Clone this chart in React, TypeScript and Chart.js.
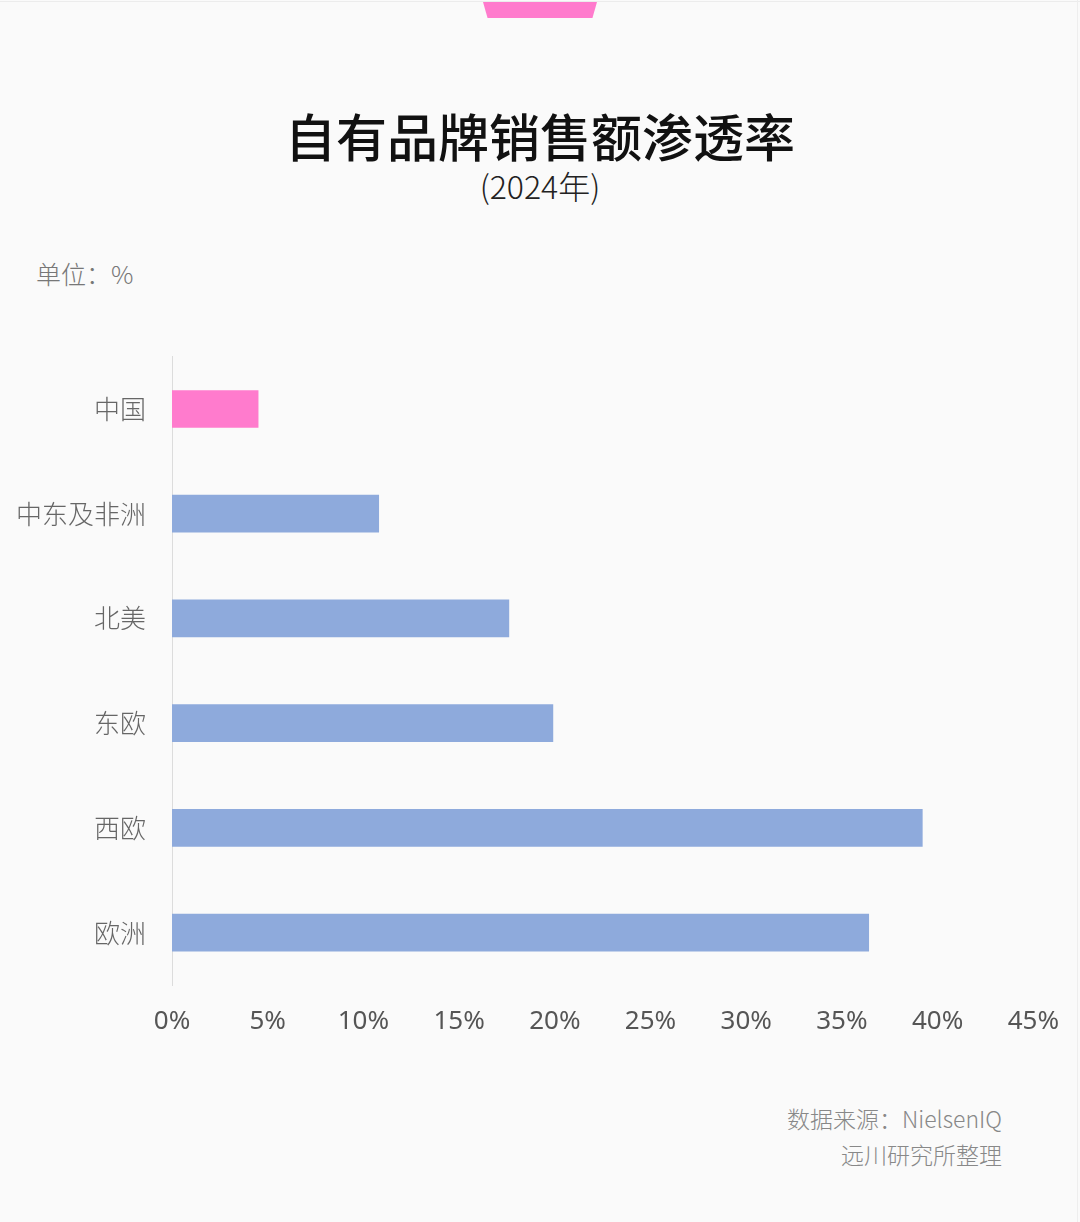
import React, { useEffect, useRef } from "react";
import { Chart, registerables } from "chart.js";

Chart.register(...registerables);

const categories = ["中国", "中东及非洲", "北美", "东欧", "西欧", "欧洲"];
const values = [4.5, 10.8, 17.6, 19.9, 39.2, 36.4];
const barColors = ["#ff7bcd", "#8eaadc", "#8eaadc", "#8eaadc", "#8eaadc", "#8eaadc"];
const xMax = 45;
const xStep = 5;

const FONT = '"Noto Sans CJK SC", "Noto Sans", sans-serif';

export default function App() {
  const ref = useRef<HTMLCanvasElement | null>(null);

  useEffect(() => {
    document.body.style.margin = "0";
    const ctx = ref.current!;
    const chart = new Chart(ctx, {
      type: "bar",
      data: {
        labels: categories,
        datasets: [
          {
            data: values,
            backgroundColor: barColors,
            borderWidth: 0,
            barThickness: 37,
          },
        ],
      },
      options: {
        indexAxis: "y",
        animation: false,
        responsive: false,
        maintainAspectRatio: false,
        layout: { padding: { left: 0, right: 45, top: 13, bottom: 0 } },
        plugins: { legend: { display: false }, tooltip: { enabled: false } },
        scales: {
          x: {
            min: 0,
            max: xMax,
            grid: { display: false, drawTicks: false },
            border: { display: false },
            ticks: {
              stepSize: xStep,
              padding: 21,
              color: "#555555",
              font: { family: '"Noto Sans", sans-serif', size: 26 },
              callback: (v: any) => `${v}%`,
              maxRotation: 0,
              autoSkip: false,
            },
            afterFit: (s: any) => {
              s.height = 75;
            },
          },
          y: {
            grid: { display: false, drawTicks: false },
            border: { display: true, color: "#dcdcdc", width: 1 },
            ticks: {
              padding: 26,
              color: "#666666",
              font: { family: FONT, size: 26, weight: 300 as any },
            },
            afterFit: (s: any) => {
              s.width = 172;
            },
          },
        },
      },
    });
    return () => chart.destroy();
  }, []);

  return (
    <div
      style={{
        position: "absolute",
        left: 0,
        top: 0,
        width: 1080,
        height: 1222,
        background: "#fafafa",
        fontFamily: FONT,
        overflow: "hidden",
      }}
    >
      <div style={{ position: "absolute", left: 0, top: 1, width: 1080, height: 1, background: "#ececec" }} />
      <div style={{ position: "absolute", left: 1077, top: 0, width: 1, height: 1222, background: "#eeeeee" }} />
      <div
        style={{
          position: "absolute",
          left: 483,
          top: 2,
          width: 114,
          height: 16,
          background: "#ff7bcd",
          clipPath: "polygon(0 0, 100% 0, 96% 100%, 4% 100%)",
        }}
      />
      <div
        style={{
          position: "absolute",
          left: 0,
          width: 1080,
          top: 102,
          textAlign: "center",
          fontSize: 51,
          fontWeight: 500,
          color: "#111111",
          lineHeight: "66px",
        }}
      >
        自有品牌销售额渗透率
      </div>
      <div
        style={{
          position: "absolute",
          left: 0,
          width: 1080,
          top: 164,
          textAlign: "center",
          fontSize: 32,
          fontWeight: 300,
          color: "#222222",
          lineHeight: "42px",
        }}
      >
        (2024年)
      </div>
      <div
        style={{
          position: "absolute",
          left: 36,
          top: 256,
          fontSize: 25,
          fontWeight: 300,
          color: "#777777",
          lineHeight: "34px",
        }}
      >
        单位：%
      </div>
      <canvas
        ref={ref}
        width={1080}
        height={745}
        style={{ position: "absolute", left: 0, top: 315, width: 1080, height: 745 }}
      />
      <div
        style={{
          position: "absolute",
          right: 78,
          top: 1100,
          fontSize: 23,
          fontWeight: 300,
          color: "#888888",
          lineHeight: "36px",
          textAlign: "right",
        }}
      >
        数据来源：NielsenIQ
        <br />
        远川研究所整理
      </div>
    </div>
  );
}
